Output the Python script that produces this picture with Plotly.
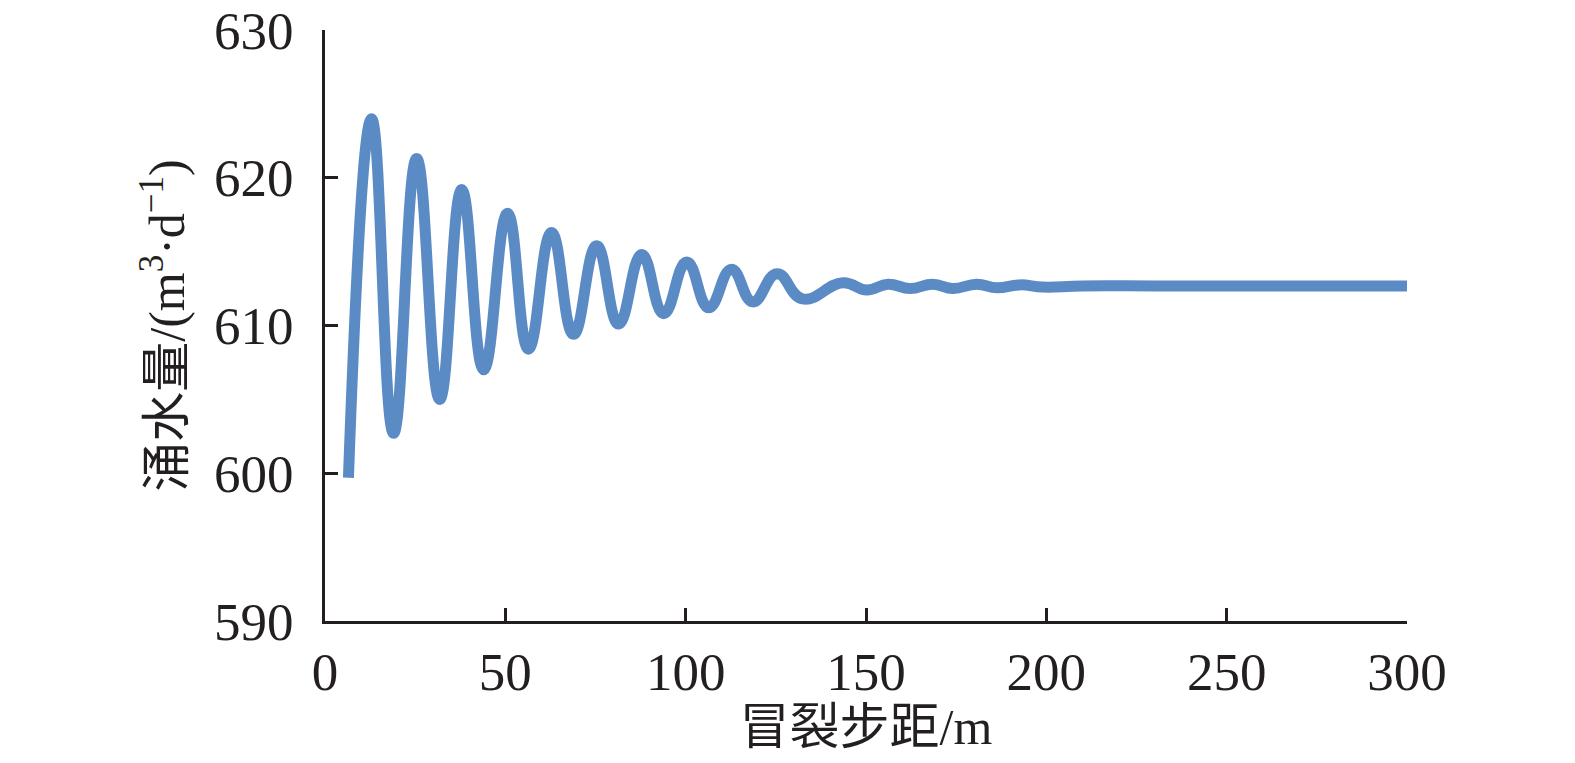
import plotly.graph_objects as go

# 冒裂步距 (m) and 涌水量 (m3/d) (peaks / troughs)
spacing = [6.5, 12.9, 19.0, 25.4, 31.8, 37.9, 44.0, 50.6, 56.4, 62.8, 68.9,
           75.3, 81.4, 87.8, 93.9, 100.3, 106.4, 112.7, 118.6, 125.3, 132.4,
           143.6, 150.2, 156.1, 162.2, 168.5, 174.1, 180.7, 186.3, 192.7,
           199.1, 210, 230, 250, 270, 300]
inflow = [599.7, 624.0, 602.7, 621.3, 605.0, 619.2, 607.0, 617.6, 608.4, 616.3,
          609.4, 615.4, 610.1, 614.8, 610.8, 614.3, 611.2, 613.8, 611.6, 613.5,
          611.8, 612.9, 612.4, 612.8, 612.5, 612.8, 612.5, 612.8, 612.55,
          612.75, 612.6, 612.68, 612.68, 612.68, 612.68, 612.68]

x_ticks = [0, 50, 100, 150, 200, 250, 300]
y_ticks = [590, 600, 610, 620, 630]

font_family = "Liberation Serif, Noto Sans CJK SC, serif"
axis_color = "#231f20"

fig = go.Figure()
fig.add_trace(go.Scatter(
    x=spacing, y=inflow, mode="lines",
    line=dict(color="#5b8bc5", width=11, shape="spline", smoothing=1.3),
    showlegend=False,
))

axis_common = dict(
    showline=True, linecolor=axis_color, linewidth=3,
    ticks="inside", ticklen=13, tickwidth=3, tickcolor=axis_color,
    showgrid=False, zeroline=False, mirror=False, automargin=False,
    ticklabeloverflow="allow",
    tickfont=dict(family=font_family, size=53, color=axis_color),
    title_font=dict(family=font_family, size=50, color=axis_color),
)

fig.update_xaxes(
    range=[0, 300], tickvals=x_ticks, ticklabelstandoff=2,
    title_text="冒裂步距/m", title_standoff=4, **axis_common,
)
fig.update_yaxes(
    range=[590, 630.001], tickvals=y_ticks, ticklabelstandoff=18,
    title_text="涌水量/(m<sup>3</sup>·d<sup>−1</sup>)", title_standoff=14,
    **axis_common,
)

# page body has an 8px margin, so the figure is a bit smaller than the window
fig.update_layout(
    width=1559, height=747,
    margin=dict(l=317, r=160, t=22, b=134),
    paper_bgcolor="white", plot_bgcolor="white",
    font=dict(family=font_family, color=axis_color),
)

fig.write_html("out.html")
